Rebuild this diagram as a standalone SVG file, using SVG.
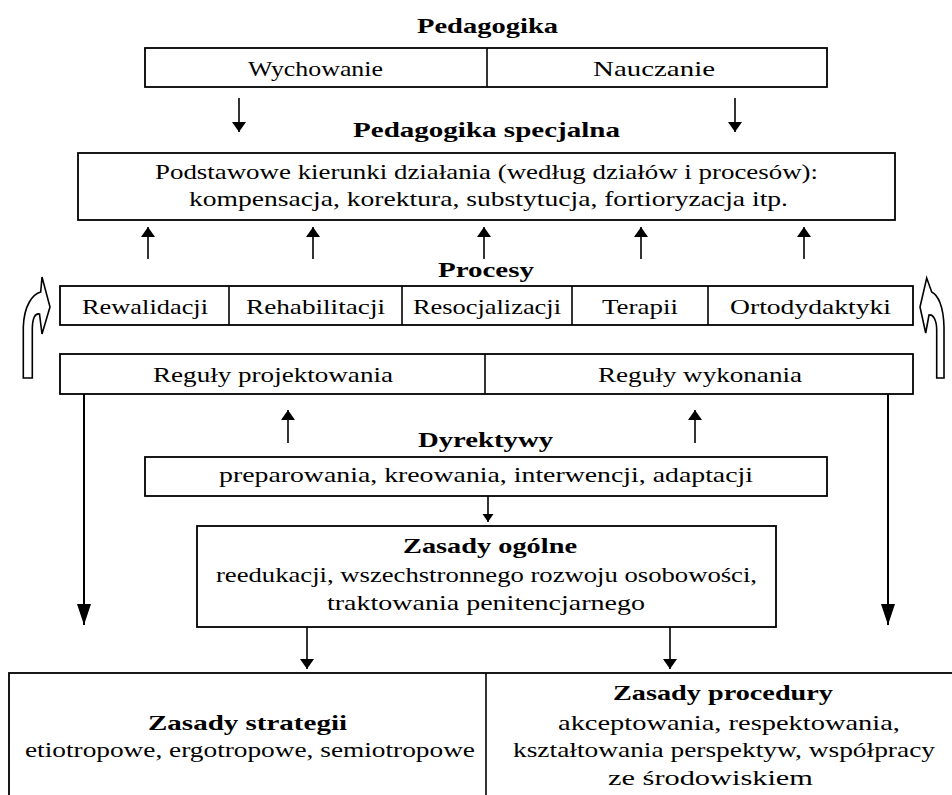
<svg xmlns="http://www.w3.org/2000/svg" width="952" height="795" viewBox="0 0 952 795">
<defs>
<style>
.box{fill:#fff;stroke:#000;stroke-width:1.8}
.div{stroke:#000;stroke-width:1.6;fill:none}
text{font-family:"Liberation Serif","DejaVu Serif","Times New Roman",serif;font-size:21px;fill:#000}
.b{font-weight:bold}
.c{stroke:#000;stroke-width:1.6;fill:none}
.cl{stroke:#000;stroke-width:2;fill:none}
.big{fill:#fff;stroke:#000;stroke-width:1.6;stroke-linejoin:miter}
</style>
<marker id="ah" markerUnits="userSpaceOnUse" markerWidth="10" markerHeight="14" refX="10" refY="7" orient="auto" overflow="visible"><path d="M0,0 L10,7 L0,14 Z" fill="#000"/></marker>
<marker id="ahL" markerUnits="userSpaceOnUse" markerWidth="21" markerHeight="14" refX="21" refY="7" orient="auto" overflow="visible"><path d="M0,0 L21,7 L0,14 Z" fill="#000"/></marker>
<marker id="ahS" markerUnits="userSpaceOnUse" markerWidth="8" markerHeight="11" refX="8" refY="5.5" orient="auto" overflow="visible"><path d="M0,0 L8,5.5 L0,11 Z" fill="#000"/></marker>
</defs>
<rect width="952" height="795" fill="#fff"/>

<g id="pedagogika">
<text class="b" x="417" y="33" textLength="141" lengthAdjust="spacingAndGlyphs">Pedagogika</text>
<rect class="box" x="145" y="48" width="682" height="39"/>
<line class="div" x1="487" y1="48" x2="487" y2="87"/>
<text x="248" y="76" textLength="135" lengthAdjust="spacingAndGlyphs">Wychowanie</text>
<text x="593" y="76" textLength="122" lengthAdjust="spacingAndGlyphs">Nauczanie</text>
</g>

<g id="pedagogika-specjalna">
<text class="b" x="353" y="137" textLength="267" lengthAdjust="spacingAndGlyphs">Pedagogika specjalna</text>
<rect class="box" x="78" y="153" width="817" height="67"/>
<text x="155" y="179" textLength="663" lengthAdjust="spacingAndGlyphs">Podstawowe kierunki działania (według działów i procesów):</text>
<text x="189" y="206" textLength="599" lengthAdjust="spacingAndGlyphs">kompensacja, korektura, substytucja, fortioryzacja itp.</text>
</g>

<g id="procesy">
<text class="b" x="438" y="277" textLength="96" lengthAdjust="spacingAndGlyphs">Procesy</text>
<rect class="box" x="60" y="286" width="853" height="39"/>
<line class="div" x1="229" y1="286" x2="229" y2="325"/>
<line class="div" x1="402" y1="286" x2="402" y2="325"/>
<line class="div" x1="572" y1="286" x2="572" y2="325"/>
<line class="div" x1="708" y1="286" x2="708" y2="325"/>
<text x="82" y="314" textLength="126" lengthAdjust="spacingAndGlyphs">Rewalidacji</text>
<text x="246" y="314" textLength="139" lengthAdjust="spacingAndGlyphs">Rehabilitacji</text>
<text x="413" y="314" textLength="148" lengthAdjust="spacingAndGlyphs">Resocjalizacji</text>
<text x="602" y="314" textLength="76" lengthAdjust="spacingAndGlyphs">Terapii</text>
<text x="730" y="314" textLength="161" lengthAdjust="spacingAndGlyphs">Ortodydaktyki</text>
</g>

<g id="reguly">
<rect class="box" x="60" y="354" width="853" height="40"/>
<line class="div" x1="485" y1="354" x2="485" y2="394"/>
<text x="153" y="382" textLength="240" lengthAdjust="spacingAndGlyphs">Reguły projektowania</text>
<text x="598" y="382" textLength="204" lengthAdjust="spacingAndGlyphs">Reguły wykonania</text>
</g>

<g id="dyrektywy">
<text class="b" x="418" y="447" textLength="135" lengthAdjust="spacingAndGlyphs">Dyrektywy</text>
<rect class="box" x="145" y="457" width="682" height="39"/>
<text x="219" y="482" textLength="534" lengthAdjust="spacingAndGlyphs">preparowania, kreowania, interwencji, adaptacji</text>
</g>

<g id="zasady-ogolne">
<rect class="box" x="197" y="526" width="579" height="101"/>
<text class="b" x="403" y="553" textLength="174" lengthAdjust="spacingAndGlyphs">Zasady ogólne</text>
<text x="216" y="582" textLength="541" lengthAdjust="spacingAndGlyphs">reedukacji, wszechstronnego rozwoju osobowości,</text>
<text x="327" y="610" textLength="318" lengthAdjust="spacingAndGlyphs">traktowania penitencjarnego</text>
</g>

<g id="zasady-dolne">
<rect class="box" x="9" y="673" width="960" height="140"/>
<line class="div" x1="486" y1="673" x2="486" y2="800"/>
</g>

<g id="zasady-strategii">
<text class="b" x="148" y="730" textLength="199" lengthAdjust="spacingAndGlyphs">Zasady strategii</text>
<text x="25" y="757" textLength="450" lengthAdjust="spacingAndGlyphs">etiotropowe, ergotropowe, semiotropowe</text>
</g>

<g id="zasady-procedury">
<text class="b" x="613" y="700" textLength="220" lengthAdjust="spacingAndGlyphs">Zasady procedury</text>
<text x="558" y="730" textLength="342" lengthAdjust="spacingAndGlyphs">akceptowania, respektowania,</text>
<text x="513" y="757" textLength="422" lengthAdjust="spacingAndGlyphs">kształtowania perspektyw, współpracy</text>
<text x="608" y="785" textLength="205" lengthAdjust="spacingAndGlyphs">ze środowiskiem</text>
</g>

<g id="connectors">
<line class="c" x1="239" y1="98" x2="239" y2="132" marker-end="url(#ah)"/>
<line class="c" x1="735" y1="98" x2="735" y2="132" marker-end="url(#ah)"/>
<line class="c" x1="148" y1="259" x2="148" y2="227" marker-end="url(#ah)"/>
<line class="c" x1="313" y1="259" x2="313" y2="227" marker-end="url(#ah)"/>
<line class="c" x1="484" y1="259" x2="484" y2="227" marker-end="url(#ah)"/>
<line class="c" x1="641" y1="259" x2="641" y2="227" marker-end="url(#ah)"/>
<line class="c" x1="804" y1="259" x2="804" y2="227" marker-end="url(#ah)"/>
<line class="c" x1="288" y1="443" x2="288" y2="410" marker-end="url(#ah)"/>
<line class="c" x1="695" y1="443" x2="695" y2="410" marker-end="url(#ah)"/>
<line class="c" x1="488" y1="496" x2="488" y2="522" marker-end="url(#ahS)"/>
<line class="cl" x1="84" y1="394" x2="84" y2="625" marker-end="url(#ahL)"/>
<line class="cl" x1="888" y1="394" x2="888" y2="625" marker-end="url(#ahL)"/>
<line class="c" x1="307" y1="627" x2="307" y2="669" marker-end="url(#ah)"/>
<line class="c" x1="670" y1="627" x2="670" y2="669" marker-end="url(#ah)"/>
<path class="big" d="M23.3,378 L32.3,378 L32.3,330 C32.3,318 35,313 39.5,314 L42,334 L50,307 L42,277 L40.7,292 C33,294 24,305 23.3,327 Z"/>
<path class="big" d="M944,378 L936.7,378 L936.7,330 C936.7,320 933,314 929,315 L925.7,333 L920,307 L926.7,278 L931.7,292 C938,295 943.5,306 944,327 Z"/>
</g>
</svg>
